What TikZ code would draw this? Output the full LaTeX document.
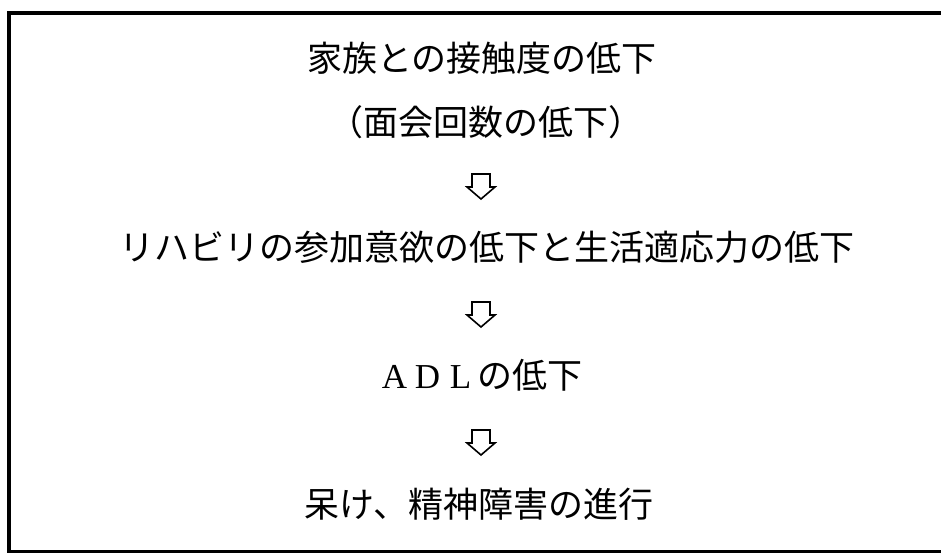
\documentclass[tikz,border=0pt]{standalone}
\usepackage{fontspec}
\newfontfamily\jp{Noto Sans CJK JP}
\newfontfamily\lat{Liberation Serif}
\begin{document}
\begin{tikzpicture}[x=1pt,y=-1pt,
  txt/.style={inner sep=0pt, font=\jp\fontsize{35}{40}\selectfont, anchor=center},
  blockarrow/.style={draw, line width=1.6pt, line join=miter}]
\useasboundingbox (0,0) rectangle (941,552);
\fill[white] (0,0) rectangle (941,552);
\draw[line width=4pt] (9,13) -- (950,13);
\draw[line width=4pt] (9,11) -- (9,560);
\draw[line width=3pt] (9,551) -- (950,551);
\node[txt] (l1) at (482,58) {家族との接触度の低下};
\node[txt] (l2) at (486,122) {（面会回数の低下）};
\coordinate (a1) at (481,186);
\node[txt] (l3) at (487,247) {リハビリの参加意欲の低下と生活適応力の低下};
\coordinate (a2) at (481,314);
\node[txt] (l4) at (480,375) {\lat\makebox[33pt]{A}\makebox[33pt]{D}\makebox[33pt]{L}\jp の低下};
\coordinate (a3) at (481,442);
\node[txt] (l5) at (479,504) {呆け、精神障害の進行};
\foreach \a in {a1,a2,a3}
  \draw[blockarrow] (\a) ++(-9,-12) -- ++(18,0) -- ++(0,13) -- ++(5,0) -- ++(-14,12)
     -- ++(-14,-12) -- ++(5,0) -- cycle;
\end{tikzpicture}
\end{document}
